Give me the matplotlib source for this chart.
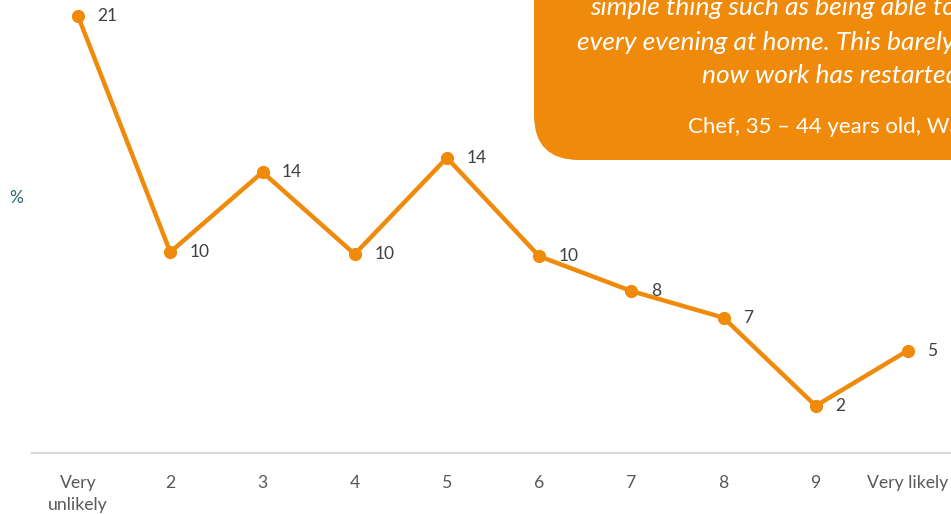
import matplotlib
matplotlib.use("Agg")
import matplotlib.pyplot as plt
from matplotlib.patches import FancyBboxPatch

plt.rcParams['font.family'] = ['Lato', 'DejaVu Sans']

categories = ["Very\nunlikely", "2", "3", "4", "5", "6", "7", "8", "9", "Very likely"]
values = [21.3, 9.8, 13.7, 9.7, 14.4, 9.6, 7.9, 6.6, 2.3, 5.0]
quote_lines = ["simple thing such as being able to eat dinner",
               "every evening at home. This barely happens",
               "now work has restarted."]
attribution = "Chef, 35 \u2013 44 years old, Wales"

ORANGE = '#EF8A0B'
W, H = 951, 514
fig = plt.figure(figsize=(W / 100, H / 100), dpi=100)

ax = fig.add_axes([32 / W, (H - 453) / H, 922 / W, 451 / H])
ax.set_zorder(2)
ax.patch.set_alpha(0)
x = list(range(len(categories)))
ax.plot(x, values, color=ORANGE, lw=3.2, marker='o', markersize=8.5, solid_capstyle='round')
for xi, v in zip(x, values):
    ax.annotate(f"{round(v)}", (xi, v), xytext=(14, 0), textcoords='offset points',
                ha='left', va='center', fontsize=12.5, color='#404040')
ax.set_xlim(-0.5, len(categories) - 0.5)
ax.set_ylim(0, 22)
ax.set_xticks(x)
ax.set_xticklabels(categories, fontsize=12.7, color='#595959', linespacing=1.45)
ax.tick_params(axis='x', length=0, pad=16)
ax.set_yticks([])
for s in ['top', 'left', 'right']:
    ax.spines[s].set_visible(False)
ax.spines['bottom'].set_color('#D9D9D9')
ax.spines['bottom'].set_linewidth(1.5)

fig.text(16 / W, (H - 198) / H, "%", color='#1F6B6E', fontsize=12.5, ha='center', va='center')

box = FancyBboxPatch((5.34, (H - 160) / 100), 5.0, 3.0,
                     boxstyle="round,pad=0,rounding_size=0.45",
                     transform=fig.dpi_scale_trans, facecolor=ORANGE, edgecolor='none', zorder=1)
fig.patches.append(box)

# quote text (centred block in the original, cut off by the right edge)
line_left = [590, 577, 702]
baselines = [15, 50, 83]
for line, lx, b in zip(quote_lines, line_left, baselines):
    fig.text(lx / 100, (H - b) / 100, line, transform=fig.dpi_scale_trans, ha='left', va='baseline',
             color='white', fontsize=19, style='italic', zorder=3)
fig.text(688 / 100, (H - 133) / 100, attribution, transform=fig.dpi_scale_trans, ha='left',
         va='baseline', color='white', fontsize=16, zorder=3)

fig.savefig("out.png", dpi=100)
